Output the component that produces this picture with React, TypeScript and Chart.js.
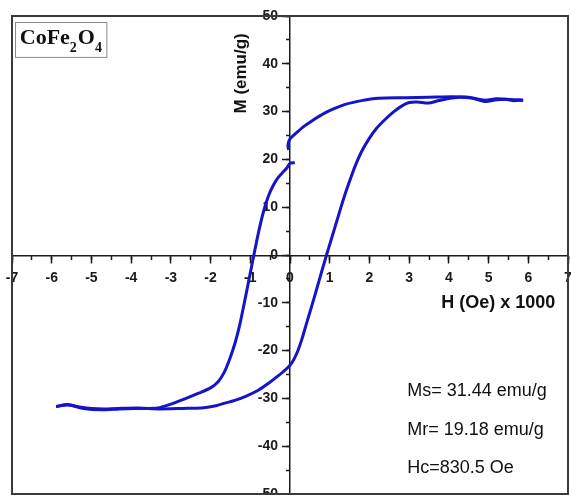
import React, { useEffect, useRef } from 'react';
import { Chart, registerables } from 'chart.js';

Chart.register(...registerables);

// Descending branch (from +H max to -H max), H in Oe x 1000, M in emu/g
const upperH = [5.87, 5.6, 5.43, 5.2, 4.92, 4.75, 4.5, 4.07, 3.5, 2.9, 2.23, 1.8, 1.39, 0.97, 0.75, 0.54, 0.35, 0.18, 0.06, 0.0, -0.04, -0.05, -0.03, -0.03, 0.12, 0.0, -0.08, -0.18, -0.3, -0.42, -0.55, -0.67, -0.78, -0.9, -1.02, -1.14, -1.26, -1.38, -1.52, -1.66, -1.81, -2.0, -2.3, -2.65, -3.0, -3.33, -3.91, -4.3, -4.76, -5.2, -5.6, -5.89];
const upperM = [32.4, 32.3, 32.6, 32.7, 32.4, 32.6, 33.0, 33.1, 33.0, 32.9, 32.8, 32.3, 31.5, 30.1, 29.1, 28.0, 26.9, 25.7, 24.8, 24.3, 23.5, 22.6, 22.0, null, 19.3, 19.2, 18.2, 17.3, 16.2, 14.6, 12.2, 9.0, 5.2, 0.4, -4.6, -9.6, -14.4, -18.3, -21.8, -24.6, -26.5, -27.8, -28.9, -30.1, -31.2, -32.0, -32.1, -32.2, -32.4, -32.1, -31.3, -31.7];

// Ascending branch (from -H max to +H max)
const lowerH = [-5.89, -5.6, -5.3, -5.0, -4.7, -4.34, -3.8, -3.3, -2.7, -2.23, -1.9, -1.64, -1.39, -1.1, -0.8, -0.55, -0.3, -0.1, 0.05, 0.18, 0.3, 0.42, 0.55, 0.68, 0.8, 0.92, 1.04, 1.16, 1.28, 1.39, 1.52, 1.64, 1.8, 1.98, 2.18, 2.4, 2.6, 2.82, 3.0, 3.2, 3.49, 3.7, 3.91, 4.25, 4.6, 4.92, 5.2, 5.43, 5.87];
const lowerM = [-31.7, -31.4, -31.8, -32.1, -32.2, -32.1, -32.0, -32.2, -32.1, -32.0, -31.6, -31.0, -30.4, -29.5, -28.3, -26.9, -25.3, -23.9, -22.5, -20.4, -17.6, -14.2, -10.6, -6.9, -3.4, 0.0, 3.3, 6.6, 9.9, 12.8, 15.9, 18.6, 21.6, 24.2, 26.5, 28.4, 29.9, 31.2, 31.9, 32.0, 31.8, 32.2, 32.6, 33.0, 32.8, 32.1, 32.5, 32.6, 32.4];

// Axis ranges / tick steps
const xRange = [-7, 7];
const yRange = [-50, 50];
const xMajorStep = 1;
const xMinorStep = 0.5;
const yMajorStep = 10;
const yMinorStep = 5;

const xTitle = 'H (Oe) x 1000';
const yTitle = 'M (emu/g)';
const statLines = ['Ms= 31.44 emu/g', 'Mr= 19.18 emu/g', 'Hc=830.5 Oe'];
const sampleParts = [
  { t: 'CoFe', sub: false },
  { t: '2', sub: true },
  { t: 'O', sub: false },
  { t: '4', sub: true },
];

const LINE = '#1414c8';
const AXIS = '#1a1a1a';
const SANS = '"Liberation Sans", Arial, sans-serif';
const SERIF = '"Liberation Serif", "Times New Roman", serif';

const toPoints = (hs: number[], ms: (number | null)[]) => hs.map((h, i) => ({ x: h, y: ms[i] }));

const zeroPad = (s: any) => {
  s.paddingLeft = 0;
  s.paddingRight = 0;
  s.paddingTop = 0;
  s.paddingBottom = 0;
};

const decorations = {
  id: 'decorations',
  afterDraw(chart: any) {
    const { ctx, chartArea: a, scales } = chart;
    const xs = scales.x;
    const ys = scales.y;
    ctx.save();
    // frame
    ctx.strokeStyle = '#3a3a3a';
    ctx.lineWidth = 2;
    ctx.strokeRect(a.left, a.top, a.right - a.left, a.bottom - a.top);

    ctx.fillStyle = '#111';
    // y title (rotated)
    ctx.font = `bold 17px ${SANS}`;
    ctx.textAlign = 'center';
    ctx.textBaseline = 'middle';
    ctx.save();
    ctx.translate(xs.getPixelForValue(-1.22), ys.getPixelForValue(38));
    ctx.rotate(-Math.PI / 2);
    ctx.fillText(yTitle, 0, 0);
    ctx.restore();

    // x title
    ctx.font = `bold 18px ${SANS}`;
    ctx.textAlign = 'right';
    ctx.textBaseline = 'middle';
    ctx.fillText(xTitle, xs.getPixelForValue(6.68), ys.getPixelForValue(-10));

    // stats
    ctx.font = `18px ${SANS}`;
    ctx.textAlign = 'left';
    ctx.textBaseline = 'alphabetic';
    const statY = [-29.5, -37.7, -45.7];
    statLines.forEach((s, i) => {
      ctx.fillText(s, xs.getPixelForValue(2.95), ys.getPixelForValue(statY[i]));
    });

    // sample label box
    const bx1 = xs.getPixelForValue(-6.93);
    const bx2 = xs.getPixelForValue(-4.63);
    const by1 = ys.getPixelForValue(48.8);
    const by2 = ys.getPixelForValue(41.5);
    ctx.strokeStyle = '#8a8a8a';
    ctx.lineWidth = 1;
    ctx.strokeRect(Math.round(bx1) + 0.5, Math.round(by1) + 0.5, bx2 - bx1, by2 - by1);
    let cx = bx1 + 5;
    const base = by1 + 22;
    sampleParts.forEach((p) => {
      ctx.font = p.sub ? `bold 14px ${SERIF}` : `bold 22px ${SERIF}`;
      ctx.fillText(p.t, cx, p.sub ? base + 8 : base);
      cx += ctx.measureText(p.t).width + (p.sub ? 1 : 0);
    });
    ctx.restore();
  },
};

export default function App() {
  const ref = useRef<HTMLCanvasElement>(null);
  useEffect(() => {
    if (!ref.current) return;
    const tickFont = { family: SANS, size: 14, weight: 'bold' as const };
    const chart = new Chart(ref.current, {
      type: 'scatter',
      data: {
        datasets: [
          {
            data: toPoints(upperH, upperM) as any,
            showLine: true,
            borderColor: LINE,
            borderWidth: 3,
            pointRadius: 0,
            tension: 0.25,
            spanGaps: false,
          },
          {
            data: toPoints(lowerH, lowerM) as any,
            showLine: true,
            borderColor: LINE,
            borderWidth: 3,
            pointRadius: 0,
            tension: 0.25,
          },
        ],
      },
      options: {
        responsive: false,
        animation: false,
        devicePixelRatio: 1,
        layout: { padding: { left: 12, top: 16, right: 3, bottom: 1 } },
        plugins: { legend: { display: false }, tooltip: { enabled: false } },
        scales: {
          x: {
            type: 'linear',
            position: 'center',
            min: xRange[0],
            max: xRange[1],
            afterFit: zeroPad,
            ticks: { stepSize: xMajorStep, color: AXIS, font: tickFont, padding: 8, maxRotation: 0, autoSkip: false },
            grid: { drawOnChartArea: false, drawTicks: true, tickLength: 7, tickWidth: 1.5, tickColor: AXIS },
            border: { display: true, color: AXIS, width: 1.5 },
          },
          x2: {
            type: 'linear',
            axis: 'x',
            position: 'center',
            min: xRange[0],
            max: xRange[1],
            afterFit: zeroPad,
            ticks: { stepSize: xMinorStep, callback: () => '', autoSkip: false },
            grid: { drawOnChartArea: false, drawTicks: true, tickLength: 4, tickWidth: 1.5, tickColor: AXIS },
            border: { display: false },
          },
          y: {
            type: 'linear',
            position: 'center',
            min: yRange[0],
            max: yRange[1],
            afterFit: zeroPad,
            ticks: { stepSize: yMajorStep, color: AXIS, font: tickFont, padding: 5, autoSkip: false },
            grid: { drawOnChartArea: false, drawTicks: true, tickLength: 7, tickWidth: 1.5, tickColor: AXIS },
            border: { display: true, color: AXIS, width: 1.5 },
          },
          y2: {
            type: 'linear',
            axis: 'y',
            position: 'center',
            min: yRange[0],
            max: yRange[1],
            afterFit: zeroPad,
            ticks: { stepSize: yMinorStep, callback: () => '', autoSkip: false },
            grid: { drawOnChartArea: false, drawTicks: true, tickLength: 4, tickWidth: 1.5, tickColor: AXIS },
            border: { display: false },
          },
        },
      } as any,
      plugins: [decorations],
    });
    return () => chart.destroy();
  }, []);
  return (
    <div style={{ position: 'absolute', left: 0, top: 0, width: 571, height: 495, background: '#fff' }}>
      <canvas ref={ref} width={571} height={495} style={{ display: 'block' }} />
    </div>
  );
}
